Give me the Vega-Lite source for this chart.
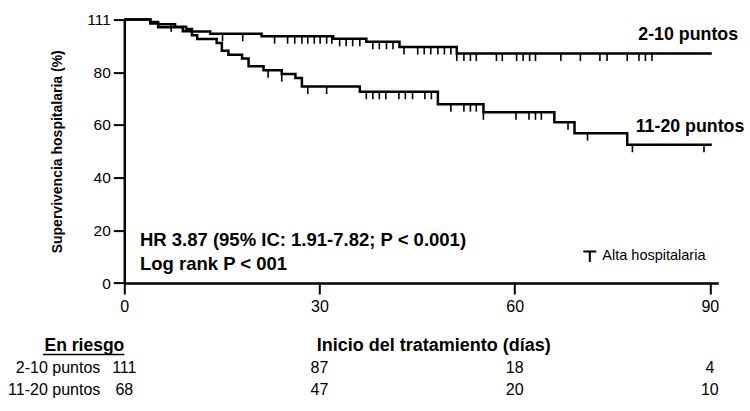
{
  "$schema": "https://vega.github.io/schema/vega-lite/v6.json",
  "width": 594,
  "height": 263.4,
  "autosize": {"type": "none"},
  "padding": {"left": 124.3, "top": 19.6, "right": 31.7, "bottom": 128},
  "background": "white",
  "config": {
    "font": "Liberation Sans",
    "view": {"stroke": null},
    "axis": {"domainColor": "black", "tickColor": "black", "labelColor": "black", "titleColor": "black", "grid": false},
    "text": {"font": "Liberation Sans", "color": "black"}
  },
  "datasets": {
    "curvas": [
      {"grupo": "2-10 puntos", "dia": 0, "supervivencia": 100},
      {"grupo": "2-10 puntos", "dia": 4.0, "supervivencia": 99.1},
      {"grupo": "2-10 puntos", "dia": 5.2, "supervivencia": 98.2},
      {"grupo": "2-10 puntos", "dia": 7.8, "supervivencia": 97.3},
      {"grupo": "2-10 puntos", "dia": 9.5, "supervivencia": 96.4},
      {"grupo": "2-10 puntos", "dia": 10.4, "supervivencia": 95.5},
      {"grupo": "2-10 puntos", "dia": 13.2, "supervivencia": 94.6},
      {"grupo": "2-10 puntos", "dia": 21.1, "supervivencia": 93.7},
      {"grupo": "2-10 puntos", "dia": 32.1, "supervivencia": 92.7},
      {"grupo": "2-10 puntos", "dia": 37.2, "supervivencia": 91.6},
      {"grupo": "2-10 puntos", "dia": 42.3, "supervivencia": 89.6},
      {"grupo": "2-10 puntos", "dia": 51.1, "supervivencia": 87.1},
      {"grupo": "2-10 puntos", "dia": 90.3, "supervivencia": 87.1},
      {"grupo": "11-20 puntos", "dia": 0, "supervivencia": 100},
      {"grupo": "11-20 puntos", "dia": 4.0, "supervivencia": 98.5},
      {"grupo": "11-20 puntos", "dia": 5.2, "supervivencia": 97.1},
      {"grupo": "11-20 puntos", "dia": 9.0, "supervivencia": 95.6},
      {"grupo": "11-20 puntos", "dia": 10.4, "supervivencia": 94.1},
      {"grupo": "11-20 puntos", "dia": 11.2, "supervivencia": 92.6},
      {"grupo": "11-20 puntos", "dia": 14.2, "supervivencia": 91.1},
      {"grupo": "11-20 puntos", "dia": 15.0, "supervivencia": 88.2},
      {"grupo": "11-20 puntos", "dia": 16.0, "supervivencia": 86.7},
      {"grupo": "11-20 puntos", "dia": 18.1, "supervivencia": 85.2},
      {"grupo": "11-20 puntos", "dia": 19.1, "supervivencia": 82.3},
      {"grupo": "11-20 puntos", "dia": 21.4, "supervivencia": 80.8},
      {"grupo": "11-20 puntos", "dia": 24.2, "supervivencia": 79.3},
      {"grupo": "11-20 puntos", "dia": 26.3, "supervivencia": 77.8},
      {"grupo": "11-20 puntos", "dia": 27.3, "supervivencia": 74.6},
      {"grupo": "11-20 puntos", "dia": 36.2, "supervivencia": 72.6},
      {"grupo": "11-20 puntos", "dia": 48.2, "supervivencia": 67.9},
      {"grupo": "11-20 puntos", "dia": 55.2, "supervivencia": 64.8},
      {"grupo": "11-20 puntos", "dia": 66.1, "supervivencia": 61.0},
      {"grupo": "11-20 puntos", "dia": 69.2, "supervivencia": 56.9},
      {"grupo": "11-20 puntos", "dia": 77.3, "supervivencia": 52.5},
      {"grupo": "11-20 puntos", "dia": 90.3, "supervivencia": 52.5}
    ],
    "censuras": [
      {"grupo": "2-10 puntos", "dia": 7.2, "supervivencia": 98.2, "evento": "Alta hospitalaria"},
      {"grupo": "2-10 puntos", "dia": 15.1, "supervivencia": 94.6, "evento": "Alta hospitalaria"},
      {"grupo": "2-10 puntos", "dia": 18.2, "supervivencia": 94.6, "evento": "Alta hospitalaria"},
      {"grupo": "2-10 puntos", "dia": 23.1, "supervivencia": 93.7, "evento": "Alta hospitalaria"},
      {"grupo": "2-10 puntos", "dia": 25.1, "supervivencia": 93.7, "evento": "Alta hospitalaria"},
      {"grupo": "2-10 puntos", "dia": 26.2, "supervivencia": 93.7, "evento": "Alta hospitalaria"},
      {"grupo": "2-10 puntos", "dia": 27.3, "supervivencia": 93.7, "evento": "Alta hospitalaria"},
      {"grupo": "2-10 puntos", "dia": 28.2, "supervivencia": 93.7, "evento": "Alta hospitalaria"},
      {"grupo": "2-10 puntos", "dia": 29.2, "supervivencia": 93.7, "evento": "Alta hospitalaria"},
      {"grupo": "2-10 puntos", "dia": 30.1, "supervivencia": 93.7, "evento": "Alta hospitalaria"},
      {"grupo": "2-10 puntos", "dia": 31.1, "supervivencia": 93.7, "evento": "Alta hospitalaria"},
      {"grupo": "2-10 puntos", "dia": 31.9, "supervivencia": 93.7, "evento": "Alta hospitalaria"},
      {"grupo": "2-10 puntos", "dia": 33.1, "supervivencia": 92.7, "evento": "Alta hospitalaria"},
      {"grupo": "2-10 puntos", "dia": 34.1, "supervivencia": 92.7, "evento": "Alta hospitalaria"},
      {"grupo": "2-10 puntos", "dia": 35.1, "supervivencia": 92.7, "evento": "Alta hospitalaria"},
      {"grupo": "2-10 puntos", "dia": 36.2, "supervivencia": 92.7, "evento": "Alta hospitalaria"},
      {"grupo": "2-10 puntos", "dia": 38.2, "supervivencia": 91.6, "evento": "Alta hospitalaria"},
      {"grupo": "2-10 puntos", "dia": 39.2, "supervivencia": 91.6, "evento": "Alta hospitalaria"},
      {"grupo": "2-10 puntos", "dia": 40.3, "supervivencia": 91.6, "evento": "Alta hospitalaria"},
      {"grupo": "2-10 puntos", "dia": 41.3, "supervivencia": 91.6, "evento": "Alta hospitalaria"},
      {"grupo": "2-10 puntos", "dia": 43.0, "supervivencia": 89.6, "evento": "Alta hospitalaria"},
      {"grupo": "2-10 puntos", "dia": 45.1, "supervivencia": 89.6, "evento": "Alta hospitalaria"},
      {"grupo": "2-10 puntos", "dia": 46.1, "supervivencia": 89.6, "evento": "Alta hospitalaria"},
      {"grupo": "2-10 puntos", "dia": 47.1, "supervivencia": 89.6, "evento": "Alta hospitalaria"},
      {"grupo": "2-10 puntos", "dia": 48.2, "supervivencia": 89.6, "evento": "Alta hospitalaria"},
      {"grupo": "2-10 puntos", "dia": 49.2, "supervivencia": 89.6, "evento": "Alta hospitalaria"},
      {"grupo": "2-10 puntos", "dia": 50.2, "supervivencia": 89.6, "evento": "Alta hospitalaria"},
      {"grupo": "2-10 puntos", "dia": 51.1, "supervivencia": 87.1, "evento": "Alta hospitalaria"},
      {"grupo": "2-10 puntos", "dia": 52.2, "supervivencia": 87.1, "evento": "Alta hospitalaria"},
      {"grupo": "2-10 puntos", "dia": 53.2, "supervivencia": 87.1, "evento": "Alta hospitalaria"},
      {"grupo": "2-10 puntos", "dia": 54.1, "supervivencia": 87.1, "evento": "Alta hospitalaria"},
      {"grupo": "2-10 puntos", "dia": 57.2, "supervivencia": 87.1, "evento": "Alta hospitalaria"},
      {"grupo": "2-10 puntos", "dia": 58.1, "supervivencia": 87.1, "evento": "Alta hospitalaria"},
      {"grupo": "2-10 puntos", "dia": 60.3, "supervivencia": 87.1, "evento": "Alta hospitalaria"},
      {"grupo": "2-10 puntos", "dia": 61.3, "supervivencia": 87.1, "evento": "Alta hospitalaria"},
      {"grupo": "2-10 puntos", "dia": 62.3, "supervivencia": 87.1, "evento": "Alta hospitalaria"},
      {"grupo": "2-10 puntos", "dia": 63.2, "supervivencia": 87.1, "evento": "Alta hospitalaria"},
      {"grupo": "2-10 puntos", "dia": 67.1, "supervivencia": 87.1, "evento": "Alta hospitalaria"},
      {"grupo": "2-10 puntos", "dia": 70.1, "supervivencia": 87.1, "evento": "Alta hospitalaria"},
      {"grupo": "2-10 puntos", "dia": 73.1, "supervivencia": 87.1, "evento": "Alta hospitalaria"},
      {"grupo": "2-10 puntos", "dia": 74.2, "supervivencia": 87.1, "evento": "Alta hospitalaria"},
      {"grupo": "2-10 puntos", "dia": 77.3, "supervivencia": 87.1, "evento": "Alta hospitalaria"},
      {"grupo": "2-10 puntos", "dia": 79.1, "supervivencia": 87.1, "evento": "Alta hospitalaria"},
      {"grupo": "2-10 puntos", "dia": 80.1, "supervivencia": 87.1, "evento": "Alta hospitalaria"},
      {"grupo": "2-10 puntos", "dia": 81.1, "supervivencia": 87.1, "evento": "Alta hospitalaria"},
      {"grupo": "11-20 puntos", "dia": 22.1, "supervivencia": 80.8, "evento": "Alta hospitalaria"},
      {"grupo": "11-20 puntos", "dia": 24.2, "supervivencia": 79.3, "evento": "Alta hospitalaria"},
      {"grupo": "11-20 puntos", "dia": 28.2, "supervivencia": 74.6, "evento": "Alta hospitalaria"},
      {"grupo": "11-20 puntos", "dia": 31.1, "supervivencia": 74.6, "evento": "Alta hospitalaria"},
      {"grupo": "11-20 puntos", "dia": 37.2, "supervivencia": 72.6, "evento": "Alta hospitalaria"},
      {"grupo": "11-20 puntos", "dia": 38.2, "supervivencia": 72.6, "evento": "Alta hospitalaria"},
      {"grupo": "11-20 puntos", "dia": 39.2, "supervivencia": 72.6, "evento": "Alta hospitalaria"},
      {"grupo": "11-20 puntos", "dia": 40.2, "supervivencia": 72.6, "evento": "Alta hospitalaria"},
      {"grupo": "11-20 puntos", "dia": 42.2, "supervivencia": 72.6, "evento": "Alta hospitalaria"},
      {"grupo": "11-20 puntos", "dia": 43.2, "supervivencia": 72.6, "evento": "Alta hospitalaria"},
      {"grupo": "11-20 puntos", "dia": 44.3, "supervivencia": 72.6, "evento": "Alta hospitalaria"},
      {"grupo": "11-20 puntos", "dia": 46.2, "supervivencia": 72.6, "evento": "Alta hospitalaria"},
      {"grupo": "11-20 puntos", "dia": 47.2, "supervivencia": 72.6, "evento": "Alta hospitalaria"},
      {"grupo": "11-20 puntos", "dia": 50.2, "supervivencia": 67.9, "evento": "Alta hospitalaria"},
      {"grupo": "11-20 puntos", "dia": 52.2, "supervivencia": 67.9, "evento": "Alta hospitalaria"},
      {"grupo": "11-20 puntos", "dia": 53.2, "supervivencia": 67.9, "evento": "Alta hospitalaria"},
      {"grupo": "11-20 puntos", "dia": 54.1, "supervivencia": 67.9, "evento": "Alta hospitalaria"},
      {"grupo": "11-20 puntos", "dia": 55.2, "supervivencia": 64.8, "evento": "Alta hospitalaria"},
      {"grupo": "11-20 puntos", "dia": 60.2, "supervivencia": 64.8, "evento": "Alta hospitalaria"},
      {"grupo": "11-20 puntos", "dia": 62.2, "supervivencia": 64.8, "evento": "Alta hospitalaria"},
      {"grupo": "11-20 puntos", "dia": 63.2, "supervivencia": 64.8, "evento": "Alta hospitalaria"},
      {"grupo": "11-20 puntos", "dia": 64.1, "supervivencia": 64.8, "evento": "Alta hospitalaria"},
      {"grupo": "11-20 puntos", "dia": 68.2, "supervivencia": 61.0, "evento": "Alta hospitalaria"},
      {"grupo": "11-20 puntos", "dia": 71.2, "supervivencia": 56.9, "evento": "Alta hospitalaria"},
      {"grupo": "11-20 puntos", "dia": 78.1, "supervivencia": 52.5, "evento": "Alta hospitalaria"},
      {"grupo": "11-20 puntos", "dia": 89.1, "supervivencia": 52.5, "evento": "Alta hospitalaria"}
    ],
    "etiquetas": [
      {"texto": "2-10 puntos", "dia": 79.0, "supervivencia": 94.2, "tamano": "grande"},
      {"texto": "11-20 puntos", "dia": 78.6, "supervivencia": 59.2, "tamano": "grande"},
      {"texto": "HR 3.87 (95% IC: 1.91-7.82; P < 0.001)", "dia": 2.4, "supervivencia": 16.3, "tamano": "nota"},
      {"texto": "Log rank P < 001", "dia": 2.4, "supervivencia": 7.2, "tamano": "nota"}
    ],
    "riesgo": [
      {"grupo": "2-10 puntos", "dia": 0, "n": 111},
      {"grupo": "2-10 puntos", "dia": 30, "n": 87},
      {"grupo": "2-10 puntos", "dia": 60, "n": 18},
      {"grupo": "2-10 puntos", "dia": 90, "n": 4},
      {"grupo": "11-20 puntos", "dia": 0, "n": 68},
      {"grupo": "11-20 puntos", "dia": 30, "n": 47},
      {"grupo": "11-20 puntos", "dia": 60, "n": 20},
      {"grupo": "11-20 puntos", "dia": 90, "n": 10}
    ]
  },
  "layer": [
    {
      "layer": [
        {
          "data": {"name": "curvas"},
          "mark": {"type": "line", "interpolate": "step-after", "strokeWidth": 2.5, "color": "black"},
          "encoding": {
            "x": {
              "field": "dia", "type": "quantitative",
              "scale": {"domain": [0, 91.3], "nice": false, "zero": false},
              "axis": {
                "values": [0, 30, 60, 90],
                "title": "Inicio del tratamiento (días)",
                "titleFontSize": 18, "titleFontWeight": "bold",
                "titleX": 309, "titleY": 62, "titleAlign": "center", "titleBaseline": "middle",
                "labelFontSize": 16, "labelPadding": 4, "labelFlush": false,
                "tickSize": 11, "tickWidth": 2, "domainWidth": 2.5
              }
            },
            "y": {
              "field": "supervivencia", "type": "quantitative",
              "scale": {"domain": [0, 100], "nice": false},
              "axis": {
                "values": [0, 20, 40, 60, 80, 100],
                "labelExpr": "datum.value == 100 ? '111' : datum.label",
                "title": "Supervivencia hospitalaria (%)",
                "titleFontSize": 14, "titleFontWeight": "bold",
                "titleX": -67, "titleY": 131.7, "titleAlign": "center", "titleBaseline": "middle", "titleAngle": -90,
                "labelFontSize": 15.5, "labelPadding": 3,
                "tickSize": 11, "tickWidth": 2, "domainWidth": 2.5
              }
            },
            "detail": {"field": "grupo"}
          }
        },
        {
          "data": {"name": "censuras"},
          "mark": {"type": "point", "shape": "M0,0L0,1", "size": 225, "strokeWidth": 1.6, "filled": false, "opacity": 1},
          "encoding": {
            "x": {"field": "dia", "type": "quantitative"},
            "y": {"field": "supervivencia", "type": "quantitative"},
            "color": {
              "field": "evento", "type": "nominal",
              "scale": {"range": ["black"]},
              "legend": {
                "title": null, "orient": "none", "legendX": 458, "legendY": 229, "padding": 0,
                "symbolType": "M-1,-0.7L1,-0.7M0,-0.7L0,0.9", "symbolSize": 169, "symbolStrokeWidth": 2,
                "symbolStrokeColor": "black", "symbolFillColor": "transparent",
                "labelFontSize": 14.5, "labelOffset": 5, "labelColor": "black", "labelFont": "Liberation Sans"
              }
            }
          }
        },
        {
          "data": {"name": "etiquetas"},
          "transform": [{"filter": "datum.tamano == 'grande'"}],
          "mark": {"type": "text", "align": "left", "baseline": "middle", "fontWeight": "bold", "fontSize": 17.8},
          "encoding": {
            "x": {"field": "dia", "type": "quantitative"},
            "y": {"field": "supervivencia", "type": "quantitative"},
            "text": {"field": "texto"}
          }
        },
        {
          "data": {"name": "etiquetas"},
          "transform": [{"filter": "datum.tamano == 'nota'"}],
          "mark": {"type": "text", "align": "left", "baseline": "middle", "fontWeight": "bold", "fontSize": 18.5},
          "encoding": {
            "x": {"field": "dia", "type": "quantitative"},
            "y": {"field": "supervivencia", "type": "quantitative"},
            "text": {"field": "texto"}
          }
        }
      ]
    },
    {
      "layer": [
        {
          "data": {"name": "riesgo"},
          "mark": {"type": "text", "align": "center", "baseline": "middle", "fontSize": 16},
          "encoding": {
            "x": {"field": "dia", "type": "quantitative"},
            "y": {"field": "grupo", "type": "nominal",
                  "scale": {"type": "point", "domain": ["En riesgo", "2-10 puntos", "11-20 puntos"], "range": [326, 370], "padding": 0},
                  "axis": null},
            "text": {"field": "n"}
          }
        },
        {
          "data": {"name": "riesgo"},
          "transform": [{"filter": "datum.dia == 0"}],
          "mark": {"type": "text", "align": "right", "baseline": "middle", "fontSize": 16, "dx": -24},
          "encoding": {
            "x": {"field": "dia", "type": "quantitative"},
            "y": {"field": "grupo", "type": "nominal"},
            "text": {"field": "grupo"}
          }
        },
        {
          "data": {"values": [{"encabezado": "En riesgo"}]},
          "mark": {"type": "text", "align": "right", "baseline": "middle", "fontSize": 17.5, "fontWeight": "bold"},
          "encoding": {
            "x": {"datum": 0, "type": "quantitative"},
            "y": {"field": "encabezado", "type": "nominal"},
            "text": {"field": "encabezado"}
          }
        },
        {
          "data": {"values": [{"encabezado": "En riesgo"}]},
          "mark": {"type": "rule", "strokeWidth": 1.5, "color": "black", "yOffset": 9},
          "encoding": {
            "x": {"datum": -12.5, "type": "quantitative"},
            "x2": {"datum": 0},
            "y": {"field": "encabezado", "type": "nominal"}
          }
        }
      ]
    }
  ],
  "resolve": {"scale": {"y": "independent"}, "axis": {"y": "independent"}}
}
